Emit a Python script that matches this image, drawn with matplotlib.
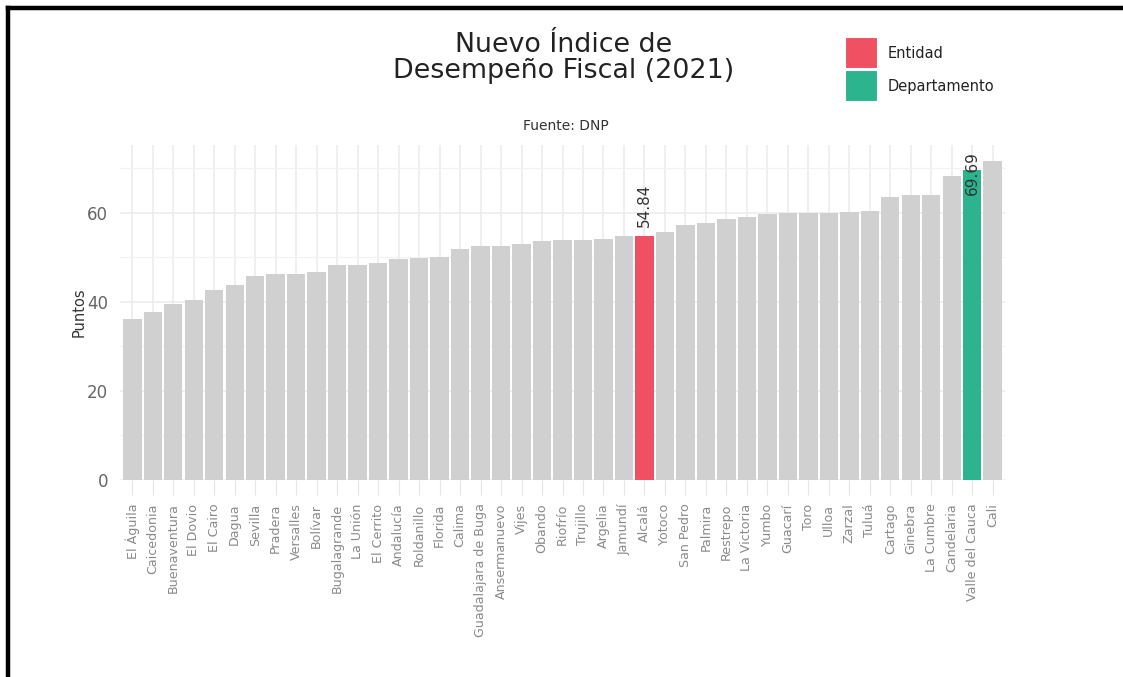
import matplotlib
matplotlib.use("Agg")
import matplotlib.pyplot as plt
from matplotlib.patches import Rectangle
from matplotlib.lines import Line2D

# Datos (NIDF 2021, Valle del Cauca)
municipios = [
    "El Águila", "Caicedonia", "Buenaventura", "El Dovio", "El Cairo", "Dagua",
    "Sevilla", "Pradera", "Versalles", "Bolívar", "Bugalagrande", "La Unión",
    "El Cerrito", "Andalucía", "Roldanillo", "Florida", "Calima",
    "Guadalajara de Buga", "Ansermanuevo", "Vijes", "Obando", "Riofrío",
    "Trujillo", "Argelia", "Jamundí", "Alcalá", "Yotoco", "San Pedro",
    "Palmira", "Restrepo", "La Victoria", "Yumbo", "Guacarí", "Toro", "Ulloa",
    "Zarzal", "Tuluá", "Cartago", "Ginebra", "La Cumbre", "Candelaria",
    "Valle del Cauca", "Cali",
]
puntos = [
    36.1, 37.7, 39.4, 40.3, 42.7, 43.8, 45.8, 46.2, 46.2, 46.6, 48.3, 48.3,
    48.7, 49.5, 49.8, 50.1, 51.8, 52.6, 52.6, 53.0, 53.6, 53.8, 53.9, 54.1,
    54.7, 54.84, 55.7, 57.2, 57.6, 58.5, 59.0, 59.7, 60.0, 59.9, 60.0, 60.2,
    60.4, 63.5, 64.0, 64.0, 68.2, 69.69, 71.7,
]
entidad = "Alcalá"
departamento = "Valle del Cauca"

gris = "#d0d0d0"
rojo = "#ef5162"
verde = "#2bb48e"

colores = []
for m in municipios:
    if m == entidad:
        colores.append(rojo)
    elif m == departamento:
        colores.append(verde)
    else:
        colores.append(gris)

fig = plt.figure(figsize=(11.23, 6.77), dpi=100)
ax = fig.add_axes([120 / 1123, 1 - 480 / 677, 885 / 1123, 335 / 677])

x = list(range(len(municipios)))
ax.bar(x, puntos, width=0.9, color=colores, zorder=2)

# etiquetas de valor
i = municipios.index(entidad)
ax.text(i, puntos[i] + 2.0, f"{puntos[i]:.2f}", rotation=90, ha="center",
        va="bottom", fontsize=11, color="#333333")
j = municipios.index(departamento)
ax.text(j, puntos[j] - 0.7, f"{puntos[j]:.2f}", rotation=90, ha="center",
        va="center", fontsize=11, color="#333333")

ax.set_xlim(-0.6, len(municipios) - 0.4)
ax.set_ylim(0, 75.2)
ax.set_yticks([0, 20, 40, 60])
ax.set_yticks([10, 30, 50, 70], minor=True)
ax.set_xticks(x)
ax.set_xticklabels(municipios, rotation=90, fontsize=9.1, color="#8a8a8a")

ax.grid(True, which="major", color="#ebebeb", linewidth=1.1, zorder=0)
ax.grid(True, which="minor", axis="y", color="#f2f2f2", linewidth=0.9, zorder=0)
ax.set_axisbelow(True)
for s in ax.spines.values():
    s.set_visible(False)
ax.tick_params(axis="x", length=11, color="#e5e5e5", pad=6)
ax.tick_params(axis="y", length=0, labelsize=12, labelcolor="#666666", pad=8.5)
ax.tick_params(which="minor", length=0)
ax.set_ylabel("Puntos", fontsize=10.5, color="#333333", labelpad=0)

# titulo y fuente
fig.text(0.502, 1 - 58 / 677, "Nuevo Índice de\nDesempeño Fiscal (2021)",
         ha="center", va="center", fontsize=19.4, color="#222222",
         linespacing=1.0)
fig.text(0.504, 1 - 126 / 677, "Fuente: DNP", ha="center", va="center",
         fontsize=10, color="#333333")

# leyenda manual
for k, (lab, col) in enumerate([("Entidad", rojo), ("Departamento", verde)]):
    y0 = 37 + k * 33
    fig.add_artist(Rectangle((845 / 1123, 1 - (y0 + 31) / 677), 32 / 1123,
                             31 / 677, transform=fig.transFigure,
                             facecolor=col, edgecolor="white", linewidth=0.8))
    fig.text(888 / 1123, 1 - (y0 + 16) / 677, lab, ha="left", va="center",
             fontsize=10.5, color="#222222")

# marco negro (arriba e izquierda)
fig.add_artist(Line2D([8 / 1123, 8 / 1123], [0, 1 - 8 / 677],
                      transform=fig.transFigure, color="black", linewidth=3.2,
                      solid_capstyle="projecting"))
fig.add_artist(Line2D([8 / 1123, 1], [1 - 8 / 677, 1 - 8 / 677],
                      transform=fig.transFigure, color="black", linewidth=3.2,
                      solid_capstyle="projecting"))

fig.savefig("out.png", dpi=100)
